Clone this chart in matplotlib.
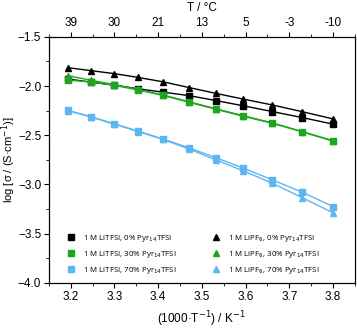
import matplotlib
matplotlib.use("Agg")
import matplotlib.pyplot as plt
from matplotlib.lines import Line2D
from matplotlib.ticker import MultipleLocator
import numpy as np

plt.rcParams['font.family'] = ['Liberation Sans', 'DejaVu Sans']

# temperatures of the measurement, in degC
temp_c = [40, 35, 30, 25, 20, 15, 10, 5, 0, -5, -10]

# log conductivity
litfsi_0 = [-1.928, -1.960, -1.990, -2.028, -2.062, -2.097, -2.147, -2.201, -2.259, -2.320, -2.387]
litfsi_30 = [-1.940, -1.957, -1.992, -2.040, -2.095, -2.165, -2.235, -2.308, -2.378, -2.465, -2.560]
litfsi_70 = [-2.247, -2.310, -2.382, -2.458, -2.538, -2.628, -2.727, -2.835, -2.953, -3.078, -3.224]
lipf6_0 = [-1.813, -1.843, -1.873, -1.912, -1.957, -2.015, -2.074, -2.133, -2.192, -2.260, -2.334]
lipf6_30 = [-1.895, -1.940, -1.985, -2.035, -2.090, -2.160, -2.230, -2.302, -2.374, -2.462, -2.556]
lipf6_70 = [-2.250, -2.313, -2.386, -2.462, -2.542, -2.640, -2.750, -2.862, -2.987, -3.134, -3.288]

labels_sq = ['1 M LiTFSI, 0% Pyr$_{14}$TFSI', '1 M LiTFSI, 30% Pyr$_{14}$TFSI', '1 M LiTFSI, 70% Pyr$_{14}$TFSI']
labels_tri = ['1 M LiPF$_6$, 0% Pyr$_{14}$TFSI', '1 M LiPF$_6$, 30% Pyr$_{14}$TFSI', '1 M LiPF$_6$, 70% Pyr$_{14}$TFSI']
colors = ['black', '#1ea61e', '#5cb6f2']

top_ticks = [3.2, 3.3, 3.4, 3.5, 3.6, 3.7, 3.8]

x = 1000.0 / (np.array(temp_c) + 273.15)

fig = plt.figure(figsize=(3.57, 3.32), dpi=100)
ax = fig.add_axes([0.137, 0.148, 0.857, 0.741])

for ys, c in zip([litfsi_0, litfsi_30, litfsi_70], colors):
    ax.plot(x, ys, color=c, lw=1.0, marker='s', ms=4, zorder=3)
for ys, c in zip([lipf6_0, lipf6_30, lipf6_70], colors):
    ax.plot(x, ys, color=c, lw=1.0, marker='^', ms=4.5, zorder=3)

ax.set_xlim(3.15, 3.85)
ax.set_ylim(-4.0, -1.5)
ax.xaxis.set_major_locator(MultipleLocator(0.1))
ax.xaxis.set_minor_locator(MultipleLocator(0.05))
ax.yaxis.set_major_locator(MultipleLocator(0.5))
ax.yaxis.set_minor_locator(MultipleLocator(0.25))
ax.tick_params(which='both', direction='out', labelsize=8.5, right=False, top=False, pad=2)
ax.tick_params(which='major', length=3.5)
ax.tick_params(which='minor', length=2)
ax.set_xlabel('(1000·T$^{-1}$) / K$^{-1}$', fontsize=8.5, labelpad=5)
ax.set_ylabel('log [σ / (S·cm$^{-1}$)]', fontsize=8)
ax.yaxis.set_label_coords(-0.1, 0.5)

# top axis in degC
top = ax.twiny()
top.set_xlim(ax.get_xlim())
top.set_xticks(top_ticks)
top.set_xticklabels(['%d' % round(1000.0 / t - 273.15) for t in top_ticks])
top.xaxis.set_minor_locator(MultipleLocator(0.05))
top.tick_params(which='both', direction='out', labelsize=8.5, pad=2.5)
top.tick_params(which='major', length=3.5)
top.tick_params(which='minor', length=2)
top.set_xlabel('T / °C', fontsize=8.5, labelpad=4)

handles = []
for c, lab in zip(colors, labels_sq):
    handles.append(Line2D([], [], ls='none', marker='s', ms=4, color=c, label=lab))
for c, lab in zip(colors, labels_tri):
    handles.append(Line2D([], [], ls='none', marker='^', ms=4.5, color=c, label=lab))
ax.legend(handles=handles, ncol=2, frameon=False, loc='lower left',
          bbox_to_anchor=(0.035, 0.0), handlelength=1.2,
          handletextpad=0.9, columnspacing=4.3, labelspacing=0.6,
          prop={'family': 'Open Sans', 'size': 5.7})

fig.savefig('out.png', dpi=100)
